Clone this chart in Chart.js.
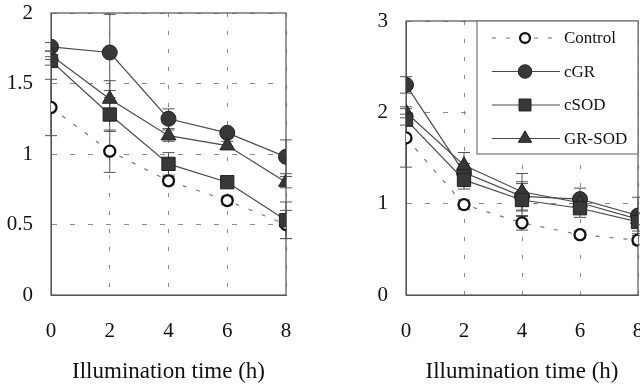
<!DOCTYPE html>
<html><head><meta charset="utf-8">
<script src="https://cdn.jsdelivr.net/npm/chart.js@4.4.1/dist/chart.umd.min.js"></script>
<style>
html,body{margin:0;padding:0;background:#fff;overflow:hidden;width:640px;height:386px;}
#cL{position:absolute;left:0;top:0;}
#cR{position:absolute;left:330px;top:0;}
</style></head><body>
<canvas id="cL" width="330" height="386"></canvas>
<canvas id="cR" width="340" height="386"></canvas>
<script>
// ---- data ----
const hours = [0, 2, 4, 6, 8];
const xTicks = [0, 2, 4, 6, 8];
const xTitle = 'Illumination time (h)';
const seriesNames = ['Control', 'cGR', 'cSOD', 'GR-SOD'];

const yTicksLeft = [0, 0.5, 1, 1.5, 2];
const leftControl = [1.33, 1.02, 0.81, 0.67, 0.50];
const leftCGR     = [1.76, 1.72, 1.25, 1.15, 0.98];
const leftCSOD    = [1.66, 1.28, 0.93, 0.80, 0.53];
const leftGRSOD   = [1.70, 1.39, 1.13, 1.06, 0.80];
const leftControlErr = [0.20, 0.15, 0.03, 0.03, 0.10];
const leftCGRErr     = [0.03, 0.27, 0.07, 0.03, 0.12];
const leftCSODErr    = [0.03, 0.12, 0.08, 0.03, 0.13];
const leftGRSODErr   = [0.03, 0.13, 0.04, 0.03, 0.04];

const yTicksRight = [0, 1, 2, 3];
const rightControl = [1.72, 0.99, 0.79, 0.66, 0.60];
const rightCGR     = [2.30, 1.34, 1.08, 1.05, 0.87];
const rightCSOD    = [1.92, 1.26, 1.04, 0.95, 0.80];
const rightGRSOD   = [2.00, 1.42, 1.13, 1.01, 0.83];
const rightControlErr = [0.32, 0.05, 0.08, 0.04, 0.05];
const rightCGRErr     = [0.09, 0.10, 0.16, 0.12, 0.20];
const rightCSODErr    = [0.06, 0.10, 0.18, 0.10, 0.10];
const rightGRSODErr   = [0.06, 0.14, 0.20, 0.06, 0.06];

// ---- styles ----
const SERIF = '"Liberation Serif", "Times New Roman", serif';
const styles = [
  {pointStyle:'circle',   radius:5.5, fill:'#ffffff', stroke:'#111', bw:2.3, line:'#777', dash:[4,10], lw:1.2, order:3},
  {pointStyle:'circle',   radius:7.5, fill:'#383838', stroke:'#222', bw:1,   line:'#4a4a4a', dash:[], lw:1.2, order:2},
  {pointStyle:'rect',     radius:9.4, fill:'#383838', stroke:'#222', bw:1,   line:'#4a4a4a', dash:[], lw:1.2, order:0},
  {pointStyle:'triangle', radius:8.5, fill:'#383838', stroke:'#222', bw:1,   line:'#4a4a4a', dash:[], lw:1.2, order:1}
];

function makeDatasets(vals, errs) {
  return vals.map((v, k) => {
    const s = styles[k];
    return {
      label: seriesNames[k],
      data: hours.map((h, i) => ({x: h, y: v[i]})),
      errors: errs[k],
      borderColor: s.line, borderWidth: s.lw, borderDash: s.dash,
      pointStyle: s.pointStyle, pointRadius: s.radius,
      pointBackgroundColor: s.fill, pointBorderColor: s.stroke, pointBorderWidth: s.bw,
      fill: false, tension: 0, order: s.order
    };
  });
}

function drawMarker(ctx, style, r, x, y, fill, stroke, bw) {
  ctx.save();
  ctx.beginPath();
  if (style === 'circle') {
    ctx.arc(x, y, r, 0, Math.PI * 2);
  } else if (style === 'rect') {
    const s = Math.SQRT1_2 * r;
    ctx.rect(x - s, y - s, 2 * s, 2 * s);
  } else {
    ctx.moveTo(x, y - r);
    ctx.lineTo(x + r * Math.sin(Math.PI * 2 / 3), y - r * Math.cos(Math.PI * 2 / 3));
    ctx.lineTo(x + r * Math.sin(Math.PI * 4 / 3), y - r * Math.cos(Math.PI * 4 / 3));
    ctx.closePath();
  }
  ctx.fillStyle = fill; ctx.fill();
  ctx.lineWidth = bw; ctx.strokeStyle = stroke; ctx.stroke();
  ctx.restore();
}

const framePlugin = {
  id: 'frameAndErrors',
  beforeDatasetsDraw(chart) {
    const ctx = chart.ctx, a = chart.chartArea;
    const xs = chart.scales.x, ys = chart.scales.y;
    ctx.save();
    ctx.strokeStyle = '#555'; ctx.lineWidth = 1.2; ctx.setLineDash([]);
    ctx.strokeRect(a.left, a.top, a.right - a.left, a.bottom - a.top);
    // error bars
    ctx.strokeStyle = '#555'; ctx.lineWidth = 1;
    chart.data.datasets.forEach(ds => {
      ds.data.forEach((p, i) => {
        const e = ds.errors[i];
        const x = xs.getPixelForValue(p.x);
        const yt = ys.getPixelForValue(p.y + e);
        const yb = ys.getPixelForValue(p.y - e);
        ctx.beginPath();
        ctx.moveTo(x, yt); ctx.lineTo(x, yb);
        ctx.moveTo(x - 6, yt); ctx.lineTo(x + 6, yt);
        ctx.moveTo(x - 6, yb); ctx.lineTo(x + 6, yb);
        ctx.stroke();
      });
    });
    ctx.restore();
  }
};

const boxLegendPlugin = {
  id: 'boxLegend',
  afterDraw(chart, args, opts) {
    if (!opts || !opts.show) return;
    const ctx = chart.ctx, a = chart.chartArea;
    const w = 161, h = 133;
    const left = a.right - w, top = a.top;
    ctx.save();
    ctx.fillStyle = '#fff';
    ctx.fillRect(left, top, w, h);
    ctx.strokeStyle = '#777'; ctx.lineWidth = 1.2;
    ctx.strokeRect(left, top, w, h);
    ctx.font = '17px ' + SERIF;
    ctx.textBaseline = 'middle'; ctx.textAlign = 'left'; ctx.fillStyle = '#111';
    seriesNames.forEach((name, k) => {
      const s = styles[k];
      const y = top + 17 + k * 33.5;
      const lx0 = left + 15, lx1 = left + 83, mx = left + 48;
      ctx.beginPath();
      ctx.strokeStyle = s.line; ctx.lineWidth = s.lw; ctx.setLineDash(s.dash);
      ctx.moveTo(lx0, y); ctx.lineTo(lx1, y); ctx.stroke();
      ctx.setLineDash([]);
      drawMarker(ctx, s.pointStyle, s.radius * 0.9, mx, y, s.fill, s.stroke, s.bw);
      ctx.fillStyle = '#111';
      ctx.fillText(name, left + 87, y + 1);
    });
    ctx.restore();
  }
};

function makeOptions(yTicks, yMax, yWidth, padTop, padRight, showLegend) {
  return {
    responsive: false, animation: false,
    layout: {padding: {left: 0, right: padRight, top: padTop, bottom: 0}},
    plugins: {legend: {display: false}, tooltip: {enabled: false}, boxLegend: {show: showLegend}},
    scales: {
      x: {
        type: 'linear', min: 0, max: 8,
        afterBuildTicks: s => { s.ticks = xTicks.map(v => ({value: v})); },
        afterFit: s => { s.height = 91; s.paddingLeft = 0; s.paddingRight = 0; },
        grid: {color: '#8c8c8c', lineWidth: 1, drawTicks: false},
        border: {display: true, color: '#555', dash: [4, 14]},
        ticks: {padding: 24, color: '#111', autoSkip: false, maxRotation: 0,
                font: {family: SERIF, size: 21}, callback: v => String(v)},
        title: {display: true, text: xTitle, color: '#111',
                font: {family: SERIF, size: 23}, padding: {top: 0, bottom: 0}}
      },
      y: {
        type: 'linear', min: 0, max: yMax,
        afterBuildTicks: s => { s.ticks = yTicks.map(v => ({value: v})); },
        afterFit: s => { s.width = yWidth; s.paddingTop = 0; s.paddingBottom = 0; },
        grid: {color: '#8c8c8c', lineWidth: 1, drawTicks: false},
        border: {display: true, color: '#555', dash: [5, 13]},
        ticks: {padding: 18, color: '#111', autoSkip: false,
                font: {family: SERIF, size: 21}, callback: v => String(v)}
      }
    }
  };
}

new Chart(document.getElementById('cL'), {
  type: 'line',
  data: {datasets: makeDatasets([leftControl, leftCGR, leftCSOD, leftGRSOD],
                                [leftControlErr, leftCGRErr, leftCSODErr, leftGRSODErr])},
  options: makeOptions(yTicksLeft, 2, 51, 13, 44, false),
  plugins: [framePlugin, boxLegendPlugin]
});

new Chart(document.getElementById('cR'), {
  type: 'line',
  data: {datasets: makeDatasets([rightControl, rightCGR, rightCSOD, rightGRSOD],
                                [rightControlErr, rightCGRErr, rightCSODErr, rightGRSODErr])},
  options: makeOptions(yTicksRight, 3, 76, 21, 32, true),
  plugins: [framePlugin, boxLegendPlugin]
});
</script>
</body></html>
